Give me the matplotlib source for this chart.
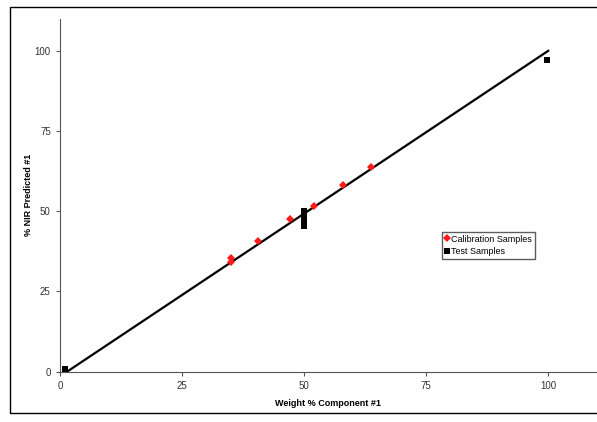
import matplotlib.pyplot as plt
from matplotlib.patches import Rectangle

# calibration samples (red diamonds)
cal_x = [35.1, 35.1, 40.5, 47.2, 52.1, 58.0, 63.8]
cal_y = [34.3, 35.4, 40.6, 47.7, 51.5, 58.3, 63.7]

# test samples (black squares)
test_x = [1.0, 50.0, 50.0, 50.0, 50.0, 50.0, 50.0, 99.8]
test_y = [0.7, 45.3, 46.4, 47.5, 48.6, 49.7, 50.2, 97.1]

# regression line
line_x = [1.5, 100]
line_y = [0, 100]

ticks = [0, 25, 50, 75, 100]

plt.rcParams['font.family'] = ['Liberation Sans', 'DejaVu Sans']

fig = plt.figure(figsize=(5.97, 4.22), dpi=100)
ax = fig.add_axes([0.1002, 0.1194, 0.8998, 0.8361])

# outer border
fig.patches.append(Rectangle((0.0168, 0.0213), 1.0, 0.9621, transform=fig.transFigure,
                             fill=False, edgecolor='black', linewidth=1.0))

ax.plot(line_x, line_y, color='black', linewidth=1.6, zorder=2)
ax.plot(cal_x, cal_y, linestyle='none', marker='D', markersize=4.3, color='#ff1a1a',
        markeredgewidth=0, label='Calibration Samples', zorder=3)
ax.plot(test_x, test_y, linestyle='none', marker='s', markersize=4.5, color='black',
        markeredgewidth=0, label='Test Samples', zorder=3)

ax.set_xlim(0, 110)
ax.set_ylim(0, 110)
ax.set_xticks(ticks)
ax.set_yticks(ticks)
ax.spines['top'].set_visible(False)
ax.spines['right'].set_visible(False)
ax.spines['left'].set_color('#555555')
ax.spines['bottom'].set_color('#555555')
ax.tick_params(labelsize=7, colors='#555555', length=3, width=0.8, labelcolor='#333333')

ax.set_xlabel('Weight % Component #1', fontsize=6.5, fontweight='bold', labelpad=6)
ax.set_ylabel('% NIR Predicted #1', fontsize=6.5, fontweight='bold', labelpad=1)

leg = ax.legend(loc='upper left', bbox_to_anchor=(0.712, 0.396), fontsize=6.5,
                frameon=True, fancybox=False, handlelength=0.5, handletextpad=0.2,
                borderpad=0.3, labelspacing=0.4, borderaxespad=0, markerscale=0.85)
leg.get_frame().set_edgecolor('#333333')
leg.get_frame().set_linewidth(1.0)

fig.savefig('out.png', dpi=100)
